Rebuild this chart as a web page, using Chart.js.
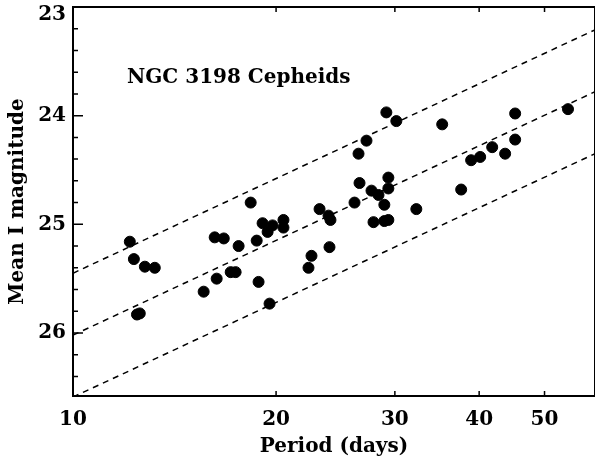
<!DOCTYPE html>
<html lang="en">
<head>
    <meta charset="UTF-8">
    <title>NGC 3198 Cepheids</title>
    <style>
        html, body { margin: 0; padding: 0; background: #fff; }
        #wrap { width: 595px; height: 461px; }
    </style>
    <script src="https://cdn.jsdelivr.net/npm/chart.js"></script>
</head>
<body>
  <div id="wrap">
    <canvas id="plChart" width="595" height="461"></canvas>
  </div>
    <script>
        // Cepheid periods (days) and mean I magnitudes
        const periods = [
            12.14, 12.31, 12.78, 13.22, 12.44, 12.56, 15.62, 16.22, 16.73, 16.33,
            17.13, 17.42, 17.60, 18.34, 18.72, 18.84, 19.56, 19.10, 19.43, 19.76,
            20.51, 20.51, 22.34, 22.57, 23.20, 23.92, 24.08, 24.00, 26.14, 26.50,
            26.59, 27.23, 27.70, 28.37, 28.94, 27.89, 28.94, 29.34, 29.34, 29.34,
            29.14, 30.15, 32.28, 35.26, 37.62, 38.92, 40.14, 41.82, 43.71, 45.23,
            45.23, 54.17
        ];
        const magnitudes = [
            25.16, 25.32, 25.39, 25.40, 25.83, 25.82, 25.62, 25.12, 25.13, 25.50,
            25.44, 25.44, 25.20, 24.80, 25.15, 25.53, 25.73, 24.99, 25.07, 25.01,
            24.96, 25.03, 25.40, 25.29, 24.86, 24.92, 24.96, 25.21, 24.80, 24.35,
            24.62, 24.23, 24.69, 24.73, 24.82, 24.98, 24.97, 24.96, 24.57, 24.67,
            23.97, 24.05, 24.86, 24.08, 24.68, 24.41, 24.38, 24.29, 24.35, 24.22,
            23.98, 23.94
        ];

        // P-L relation and its envelope (endpoints at the axis limits)
        const lineP = [10, 59.4];
        const upperLine = [25.45, 23.21];
        const middleLine = [26.02, 23.78];
        const lowerLine = [26.59, 24.35];

        // axis ticks
        const xTickValues = [10, 20, 30, 40, 50];
        const yTickLabels = [23, 24, 25, 26];

        const FONT = "'DejaVu Serif', serif";

        function pairs(xs, ys) {
            return xs.map((x, i) => ({ x: x, y: ys[i] }));
        }

        function dashed(values) {
            return {
                type: 'line',
                data: pairs(lineP, values),
                borderColor: '#000',
                borderWidth: 1.5,
                borderDash: [6, 5],
                pointRadius: 0,
                fill: false
            };
        }

        // frame, inward ticks, y labels and the label inside the plot
        const framePlugin = {
            id: 'framePlugin',
            afterDraw: function(chart) {
                const ctx = chart.ctx;
                const a = chart.chartArea;
                const xs = chart.scales.x;
                const ys = chart.scales.y;
                ctx.save();
                ctx.strokeStyle = '#000';
                ctx.lineWidth = 2;
                ctx.strokeRect(a.left, a.top, a.right - a.left, a.bottom - a.top);

                ctx.lineWidth = 1.5;
                ctx.beginPath();
                ys.ticks.forEach(function(t) {
                    const py = ys.getPixelForValue(t.value);
                    const len = Number.isInteger(Math.round(t.value * 100) / 100) ? 10 : 5;
                    ctx.moveTo(a.left, py); ctx.lineTo(a.left + len, py);
                });
                xs.ticks.forEach(function(t) {
                    const px = xs.getPixelForValue(t.value);
                    ctx.moveTo(px, a.bottom); ctx.lineTo(px, a.bottom - 5);
                    ctx.moveTo(px, a.top); ctx.lineTo(px, a.top + 5);
                });
                ctx.stroke();

                ctx.fillStyle = '#000';
                ctx.font = 'bold 20px ' + FONT;
                ctx.textAlign = 'right';
                ctx.textBaseline = 'middle';
                yTickLabels.forEach(function(v) {
                    const py = Math.max(ys.getPixelForValue(v), a.top + 8);
                    ctx.fillText(String(v), a.left - 7, py);
                });

                ctx.textAlign = 'left';
                ctx.textBaseline = 'alphabetic';
                ctx.fillText('NGC 3198 Cepheids', 127, 83);
                ctx.restore();
            }
        };

        const data = {
            datasets: [
                {
                    type: 'scatter',
                    data: pairs(periods, magnitudes),
                    backgroundColor: '#000',
                    borderColor: '#000',
                    pointRadius: 5.5,
                    pointHoverRadius: 5.5
                },
                dashed(upperLine),
                dashed(middleLine),
                dashed(lowerLine)
            ]
        };

        const options = {
            responsive: false,
            animation: false,
            layout: { autoPadding: false, padding: { top: 7, right: -1, left: 0, bottom: 0 } },
            plugins: {
                legend: { display: false },
                tooltip: { enabled: false }
            },
            scales: {
                x: {
                    type: 'logarithmic',
                    min: 10,
                    max: 59.4,
                    grid: { display: false, drawTicks: false },
                    border: { display: false },
                    afterBuildTicks: function(scale) {
                        scale.ticks = xTickValues.map(v => ({ value: v }));
                    },
                    afterFit: function(scale) {
                        scale.height = 65;
                        scale.paddingLeft = 0;
                        scale.paddingRight = 0;
                    },
                    ticks: {
                        autoSkip: false,
                        maxRotation: 0,
                        padding: 12,
                        color: '#000',
                        font: { family: FONT, size: 20, weight: 'bold' },
                        callback: function(value) { return String(value); }
                    },
                    title: {
                        display: true,
                        text: 'Period (days)',
                        color: '#000',
                        padding: { top: 0, bottom: 2 },
                        font: { family: FONT, size: 20, weight: 'bold' }
                    }
                },
                y: {
                    type: 'linear',
                    min: 23,
                    max: 26.58,
                    reverse: true,
                    grid: { display: false, drawTicks: false },
                    border: { display: false },
                    afterBuildTicks: function(scale) {
                        const t = [];
                        for (let i = 0; i <= 17; i++) {
                            t.push({ value: Math.round((23 + i * 0.2) * 10) / 10 });
                        }
                        scale.ticks = t;
                    },
                    afterFit: function(scale) {
                        scale.width = 73;
                        scale.paddingTop = 0;
                        scale.paddingBottom = 0;
                    },
                    ticks: { display: false },
                    title: {
                        display: true,
                        text: 'Mean I magnitude',
                        color: '#000',
                        padding: { top: 6, bottom: 0 },
                        font: { family: FONT, size: 20, weight: 'bold' }
                    }
                }
            }
        };

        Chart.register(framePlugin);
        new Chart(document.getElementById('plChart').getContext('2d'), {
            type: 'scatter',
            data: data,
            options: options
        });
    </script>
</body>
</html>
